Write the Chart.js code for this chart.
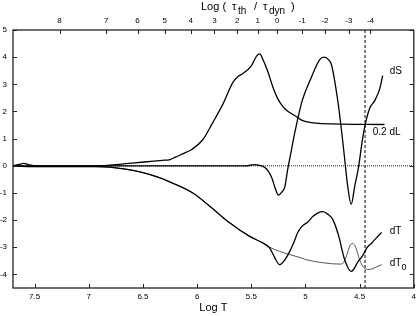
<!DOCTYPE html>
<html>
<head>
<meta charset="utf-8">
<script src="https://cdn.jsdelivr.net/npm/chart.js@4.4.0/dist/chart.umd.min.js"></script>
<style>
  html, body { margin: 0; padding: 0; background: #fff; }
</style>
</head>
<body>
<canvas id="chart" width="420" height="316"></canvas>
<script>
// Values (x = Log T, decreasing to the right)

// 0.2 dL
const dLLogT = [7.70, 7.65, 7.60, 7.55, 7.50, 7.20, 6.90, 6.80, 6.60, 6.40, 6.32, 6.25, 6.20, 6.10, 6.05, 5.95, 5.86, 5.76, 5.67, 5.62, 5.58, 5.50, 5.45, 5.42, 5.395, 5.35, 5.30, 5.26, 5.22, 5.19, 5.15, 5.07, 5.03, 4.90, 4.75, 4.27];
const dLValues = [0, 0.04, 0.09, 0.03, 0, 0, 0, 0.02, 0.10, 0.17, 0.20, 0.23, 0.32, 0.50, 0.60, 0.95, 1.56, 2.29, 3.07, 3.30, 3.39, 3.68, 4.05, 4.12, 3.93, 3.50, 2.89, 2.50, 2.24, 2.10, 1.97, 1.78, 1.67, 1.57, 1.54, 1.52];

// dS
const dSLogT = [7.70, 7.00, 5.55, 5.47, 5.43, 5.38, 5.35, 5.31, 5.284, 5.25, 5.22, 5.19, 5.165, 5.13, 5.10, 5.03, 4.945, 4.87, 4.83, 4.79, 4.76, 4.70, 4.66, 4.638, 4.61, 4.578, 4.545, 4.508, 4.48, 4.453, 4.407, 4.36, 4.314, 4.287];
const dSValues = [0, 0, 0, 0.04, 0.02, -0.05, -0.16, -0.45, -0.77, -1.08, -0.98, -0.77, -0.16, 0.57, 1.19, 2.40, 3.26, 3.90, 4.00, 3.92, 3.72, 2.35, 1.05, 0.25, -0.75, -1.42, -0.75, 0.00, 0.80, 1.43, 2.12, 2.40, 2.84, 3.32];

// dT
const dTLogT = [7.70, 7.55, 7.00, 6.94, 6.81, 6.53, 6.33, 6.29, 6.04, 5.88, 5.70, 5.515, 5.395, 5.33, 5.284, 5.238, 5.19, 5.145, 5.10, 5.07, 5.03, 4.98, 4.933, 4.887, 4.84, 4.795, 4.745, 4.684, 4.668, 4.638, 4.578, 4.51, 4.47, 4.435, 4.39, 4.36, 4.296];
const dTValues = [0, -0.03, -0.03, -0.03, -0.05, -0.22, -0.46, -0.53, -1.00, -1.50, -2.10, -2.60, -2.84, -3.03, -3.38, -3.64, -3.46, -3.15, -2.75, -2.45, -2.22, -2.08, -1.87, -1.74, -1.69, -1.78, -2.00, -2.72, -3.00, -3.46, -3.89, -3.50, -3.30, -3.03, -2.85, -2.72, -2.45];

// dT0
const dT0LogT = [7.70, 7.55, 7.00, 6.94, 6.81, 6.53, 6.33, 6.29, 6.04, 5.88, 5.70, 5.515, 5.395, 5.33, 5.24, 5.145, 5.05, 4.99, 4.84, 4.68, 4.656, 4.62, 4.59, 4.564, 4.536, 4.50, 4.46, 4.425, 4.39, 4.342, 4.296];
const dT0Values = [0, -0.03, -0.03, -0.03, -0.05, -0.22, -0.46, -0.53, -1.00, -1.50, -2.10, -2.60, -2.84, -3.00, -3.15, -3.27, -3.38, -3.46, -3.57, -3.62, -3.60, -3.30, -2.95, -2.86, -3.00, -3.46, -3.75, -3.82, -3.80, -3.72, -3.64];

// top axis: Log(tau_th / tau_dyn) ticks placed at Log T
const tauTickLogT = [7.27, 6.84, 6.55, 6.30, 6.06, 5.84, 5.63, 5.44, 5.26, 5.03, 4.82, 4.60, 4.40];
const tauTickLabels = ['8', '7', '6', '5', '4', '3', '2', '1', '0', '-1', '-2', '-3', '-4'];

// vertical marker
const markerLogT = 4.45;

const xMin = 4, xMax = 7.7;
const yMin = -4.5, yMax = 5;

// curve labels (text, Log T, value)
const curveLabels = [
    { text: 'dS', x: 4.222, y: 3.47 },
    { text: '0.2 dL', x: 4.379, y: 1.23 },
    { text: 'dT', x: 4.222, y: -2.40 },
    { text: 'dT', sub: '0', x: 4.222, y: -3.60 }
];

const FONT = '"Liberation Sans", Arial, Helvetica, sans-serif';

function toPoints(xs, ys) {
    return xs.map((x, i) => ({ x: x, y: ys[i] }));
}

function curve(label, xs, ys, color, width) {
    return {
        label: label,
        data: toPoints(xs, ys),
        borderColor: color,
        borderWidth: width,
        pointRadius: 0,
        fill: false,
        cubicInterpolationMode: 'monotone'
    };
}

const framePlugin = {
    id: 'frame',
    afterDraw(chart) {
        const { ctx, chartArea: a, scales } = chart;
        ctx.save();

        // box
        ctx.strokeStyle = '#222';
        ctx.lineWidth = 1.3;
        ctx.strokeRect(a.left, a.top, a.right - a.left, a.bottom - a.top);

        // inward tick marks
        ctx.beginPath();
        ctx.lineWidth = 1;
        scales.y.ticks.forEach(t => {
            const py = Math.round(scales.y.getPixelForValue(t.value)) + 0.5;
            ctx.moveTo(a.left, py); ctx.lineTo(a.left + 4, py);
            ctx.moveTo(a.right, py); ctx.lineTo(a.right - 4, py);
        });
        scales.x.ticks.forEach(t => {
            const px = Math.round(scales.x.getPixelForValue(t.value)) + 0.5;
            ctx.moveTo(px, a.bottom); ctx.lineTo(px, a.bottom - 4);
        });
        scales.x2.ticks.forEach(t => {
            const px = Math.round(scales.x2.getPixelForValue(t.value)) + 0.5;
            ctx.moveTo(px, a.top); ctx.lineTo(px, a.top + 4);
        });
        ctx.stroke();

        // curve labels
        ctx.fillStyle = '#000';
        ctx.textBaseline = 'middle';
        ctx.textAlign = 'left';
        curveLabels.forEach(l => {
            const px = scales.x.getPixelForValue(l.x);
            const py = scales.y.getPixelForValue(l.y);
            ctx.font = '10px ' + FONT;
            ctx.fillText(l.text, px, py);
            if (l.sub) {
                const w = ctx.measureText(l.text).width;
                ctx.font = '9px ' + FONT;
                ctx.fillText(l.sub, px + w, py + 4);
            }
        });

        // top title: Log ( tau_th / tau_dyn )
        ctx.textBaseline = 'alphabetic';
        const parts = [
            ['Log (', 201, 0], ['\u03c4', 232, 0], ['th', 238, 1],
            ['/', 254, 0], ['\u03c4', 263, 0], ['dyn', 269, 1], [')', 291, 0]
        ];
        parts.forEach(([s, px, sub]) => {
            ctx.font = (sub ? '10px ' : '11px ') + FONT;
            ctx.fillText(s, px, sub ? 14 : 10);
        });

        ctx.restore();
    }
};

new Chart(document.getElementById('chart').getContext('2d'), {
    type: 'line',
    data: {
        datasets: [
            curve('0.2 dL', dLLogT, dLValues, '#000', 1.3),
            curve('dS', dSLogT, dSValues, '#000', 1.3),
            curve('dT', dTLogT, dTValues, '#000', 1.3),
            curve('dT0', dT0LogT, dT0Values, '#555', 1),
            {
                label: 'zero',
                data: [{ x: xMax, y: 0 }, { x: xMin, y: 0 }],
                borderColor: '#444',
                borderWidth: 1.2,
                borderDash: [1, 1],
                pointRadius: 0,
                tension: 0
            },
            {
                label: 'marker',
                data: [{ x: markerLogT, y: yMin }, { x: markerLogT, y: yMax }],
                borderColor: '#000',
                borderWidth: 1,
                borderDash: [3, 2],
                pointRadius: 0,
                tension: 0
            }
        ]
    },
    options: {
        responsive: false,
        animation: false,
        layout: { padding: { left: 0, right: 6, top: 0, bottom: 0 } },
        plugins: {
            legend: { display: false },
            tooltip: { enabled: false }
        },
        scales: {
            x: {
                type: 'linear',
                position: 'bottom',
                min: xMin,
                max: xMax,
                reverse: true,
                afterFit: s => { s.height = 28; },
                border: { display: false },
                grid: { drawOnChartArea: false, drawTicks: false },
                ticks: {
                    stepSize: 0.5,
                    includeBounds: false,
                    autoSkip: false,
                    maxRotation: 0,
                    padding: 4,
                    color: '#000',
                    font: { family: FONT, size: 8 },
                    callback: value => String(Number(value.toFixed(1)))
                },
                title: {
                    display: true,
                    text: 'Log T',
                    color: '#000',
                    padding: { top: 0, bottom: 1 },
                    font: { family: FONT, size: 11 }
                }
            },
            x2: {
                type: 'linear',
                position: 'top',
                min: xMin,
                max: xMax,
                reverse: true,
                afterFit: s => { s.height = 30; },
                afterBuildTicks: s => { s.ticks = tauTickLogT.map(v => ({ value: v })); },
                border: { display: false },
                grid: { drawOnChartArea: false, drawTicks: false },
                ticks: {
                    autoSkip: false,
                    maxRotation: 0,
                    padding: 4,
                    color: '#000',
                    font: { family: FONT, size: 8 },
                    callback: (value, index) => tauTickLabels[index]
                }
            },
            y: {
                type: 'linear',
                position: 'left',
                min: yMin,
                max: yMax,
                afterFit: s => { s.width = 13; },
                border: { display: false },
                grid: { drawOnChartArea: false, drawTicks: false },
                ticks: {
                    stepSize: 1,
                    includeBounds: false,
                    padding: 6,
                    color: '#000',
                    font: { family: FONT, size: 8 }
                }
            }
        }
    },
    plugins: [framePlugin]
});
</script>
</body>
</html>
